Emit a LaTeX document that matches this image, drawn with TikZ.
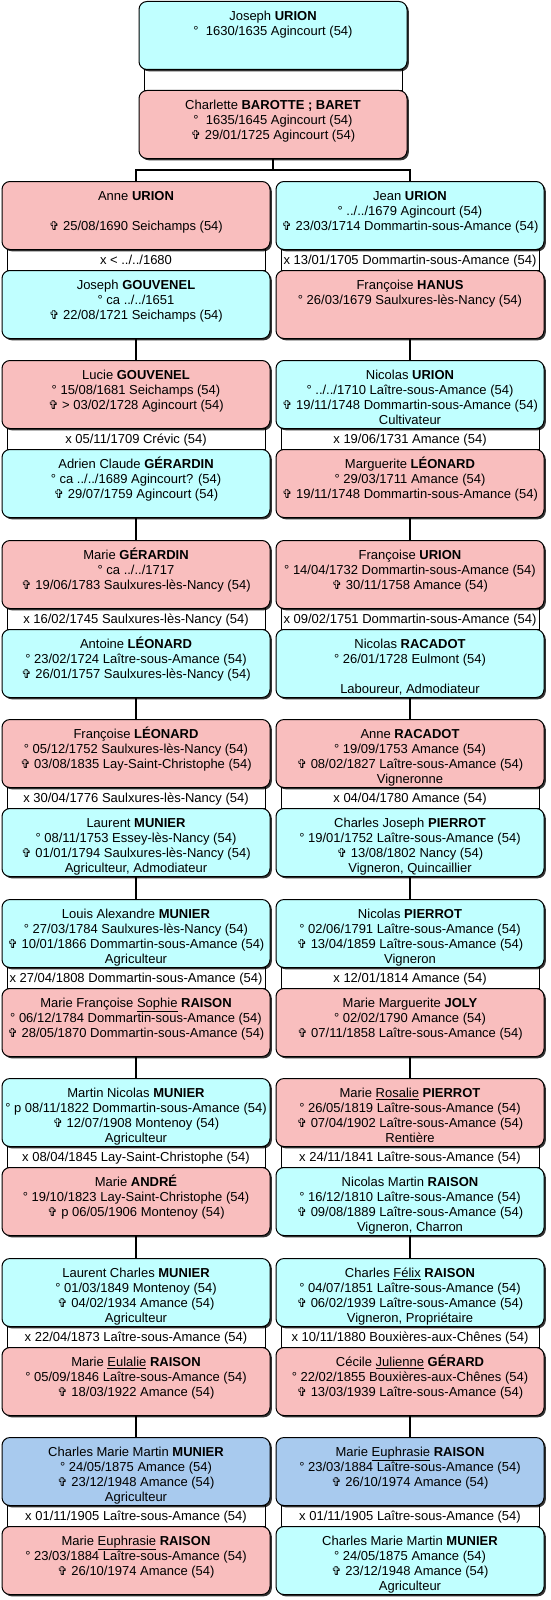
\documentclass[tikz,border=0pt]{standalone}
\usepackage{fontspec}
\setmainfont{Liberation Sans}
\newfontfamily\crossfont[Scale=0.95]{DejaVu Sans}
\usetikzlibrary{shadows}
\definecolor{malefill}{RGB}{192,255,255}
\definecolor{femalefill}{RGB}{249,190,190}
\definecolor{rootfill}{RGB}{168,202,238}
\newcommand{\linestrut}{\rule[-4pt]{0pt}{14pt}}
\newcommand{\pers}[4]{\rule{0pt}{19pt}#1\\\linestrut#2\\\linestrut#3\\\linestrut#4}
\newcommand{\dcd}{{\crossfont ✞}~}

\begin{document}
\begin{tikzpicture}[
    x=1pt, y=-1pt,
    font=\fontsize{13}{15}\selectfont,
    indiv/.style={draw=black, line width=1pt, rounded corners=8pt, anchor=north, align=center,
      inner xsep=0pt, inner ysep=0pt, minimum width=268pt, minimum height=68pt,
      drop shadow={shadow xshift=1.8pt, shadow yshift=-1.8pt, fill=black!80, opacity=1}},
    male/.style={indiv, fill=malefill},
    female/.style={indiv, fill=femalefill},
    root/.style={indiv, fill=rootfill},
    union/.style={draw=black, line width=1pt, anchor=north, inner sep=0pt,
      minimum width=258pt, minimum height=21pt, text height=9pt, text depth=1pt},
    link/.style={draw=black, line width=1.3pt}
]
  \fill[white] (0,0) rectangle (550,1600);
  \useasboundingbox (0,0) rectangle (550,1600);

  % top couple
  \node[male] (jurion) at (273,1) {\pers{Joseph \textbf{URION}}{° \ 1630/1635 Agincourt (54)}{}{}};
  \node[union] (u0) at (273,69) {};
  \node[female] (cbarotte) at (273,90) {\pers{Charlette \textbf{BAROTTE ; BARET}}{° \ 1635/1645 Agincourt (54)}{\dcd 29/01/1725 Agincourt (54)}{}};
  \coordinate (fork) at (273,170);
  \draw[link] (cbarotte.south) -- (fork);

  % row A
  \node[female] (aurion) at (136,181) {\pers{Anne \textbf{URION}}{}{\dcd 25/08/1690 Seichamps (54)}{}};
  \node[union] (ua1) at (136,249) {x < ../../1680};
  \node[male] (jgouvenel) at (136,270) {\pers{Joseph \textbf{GOUVENEL}}{° ca ../../1651}{\dcd 22/08/1721 Seichamps (54)}{}};
  \node[male] (jeurion) at (410,181) {\pers{Jean \textbf{URION}}{° ../../1679 Agincourt (54)}{\dcd 23/03/1714 Dommartin-sous-Amance (54)}{}};
  \node[union] (ua2) at (410,249) {x 13/01/1705 Dommartin-sous-Amance (54)};
  \node[female] (fhanus) at (410,270) {\pers{Françoise \textbf{HANUS}}{° 26/03/1679 Saulxures-lès-Nancy (54)}{}{}};
  \draw[link] (aurion.north) |- (fork) -| (jeurion.north);

  % row B
  \node[female] (lgouvenel) at (136,360) {\pers{Lucie \textbf{GOUVENEL}}{° 15/08/1681 Seichamps (54)}{\dcd > 03/02/1728 Agincourt (54)}{}};
  \node[union] (ub1) at (136,428) {x 05/11/1709 Crévic (54)};
  \node[male] (acgerardin) at (136,449) {\pers{Adrien Claude \textbf{GÉRARDIN}}{° ca ../../1689 Agincourt? (54)}{\dcd 29/07/1759 Agincourt (54)}{}};
  \node[male] (nurion) at (410,360) {\pers{Nicolas \textbf{URION}}{° ../../1710 Laître-sous-Amance (54)}{\dcd 19/11/1748 Dommartin-sous-Amance (54)}{Cultivateur}};
  \node[union] (ub2) at (410,428) {x 19/06/1731 Amance (54)};
  \node[female] (mleonard) at (410,449) {\pers{Marguerite \textbf{LÉONARD}}{° 29/03/1711 Amance (54)}{\dcd 19/11/1748 Dommartin-sous-Amance (54)}{}};
  \draw[link] (jgouvenel.south) -- (lgouvenel.north);
  \draw[link] (fhanus.south) -- (nurion.north);

  % row C
  \node[female] (mgerardin) at (136,540) {\pers{Marie \textbf{GÉRARDIN}}{° ca ../../1717}{\dcd 19/06/1783 Saulxures-lès-Nancy (54)}{}};
  \node[union] (uc1) at (136,608) {x 16/02/1745 Saulxures-lès-Nancy (54)};
  \node[male] (aleonard) at (136,629) {\pers{Antoine \textbf{LÉONARD}}{° 23/02/1724 Laître-sous-Amance (54)}{\dcd 26/01/1757 Saulxures-lès-Nancy (54)}{}};
  \node[female] (furion) at (410,540) {\pers{Françoise \textbf{URION}}{° 14/04/1732 Dommartin-sous-Amance (54)}{\dcd 30/11/1758 Amance (54)}{}};
  \node[union] (uc2) at (410,608) {x 09/02/1751 Dommartin-sous-Amance (54)};
  \node[male] (nracadot) at (410,629) {\pers{Nicolas \textbf{RACADOT}}{° 26/01/1728 Eulmont (54)}{}{Laboureur, Admodiateur}};
  \draw[link] (acgerardin.south) -- (mgerardin.north);
  \draw[link] (mleonard.south) -- (furion.north);

  % row D
  \node[female] (fleonard) at (136,719) {\pers{Françoise \textbf{LÉONARD}}{° 05/12/1752 Saulxures-lès-Nancy (54)}{\dcd 03/08/1835 Lay-Saint-Christophe (54)}{}};
  \node[union] (ud1) at (136,787) {x 30/04/1776 Saulxures-lès-Nancy (54)};
  \node[male] (lmunier) at (136,808) {\pers{Laurent \textbf{MUNIER}}{° 08/11/1753 Essey-lès-Nancy (54)}{\dcd 01/01/1794 Saulxures-lès-Nancy (54)}{Agriculteur, Admodiateur}};
  \node[female] (aracadot) at (410,719) {\pers{Anne \textbf{RACADOT}}{° 19/09/1753 Amance (54)}{\dcd 08/02/1827 Laître-sous-Amance (54)}{Vigneronne}};
  \node[union] (ud2) at (410,787) {x 04/04/1780 Amance (54)};
  \node[male] (cjpierrot) at (410,808) {\pers{Charles Joseph \textbf{PIERROT}}{° 19/01/1752 Laître-sous-Amance (54)}{\dcd 13/08/1802 Nancy (54)}{Vigneron, Quincaillier}};
  \draw[link] (aleonard.south) -- (fleonard.north);
  \draw[link] (nracadot.south) -- (aracadot.north);

  % row E
  \node[male] (lamunier) at (136,899) {\pers{Louis Alexandre \textbf{MUNIER}}{° 27/03/1784 Saulxures-lès-Nancy (54)}{\dcd 10/01/1866 Dommartin-sous-Amance (54)}{Agriculteur}};
  \node[union] (ue1) at (136,967) {x 27/04/1808 Dommartin-sous-Amance (54)};
  \node[female] (mfsraison) at (136,988) {\pers{Marie Françoise \underline{Sophie} \textbf{RAISON}}{° 06/12/1784 Dommartin-sous-Amance (54)}{\dcd 28/05/1870 Dommartin-sous-Amance (54)}{}};
  \node[male] (npierrot) at (410,899) {\pers{Nicolas \textbf{PIERROT}}{° 02/06/1791 Laître-sous-Amance (54)}{\dcd 13/04/1859 Laître-sous-Amance (54)}{Vigneron}};
  \node[union] (ue2) at (410,967) {x 12/01/1814 Amance (54)};
  \node[female] (mmjoly) at (410,988) {\pers{Marie Marguerite \textbf{JOLY}}{° 02/02/1790 Amance (54)}{\dcd 07/11/1858 Laître-sous-Amance (54)}{}};
  \draw[link] (lmunier.south) -- (lamunier.north);
  \draw[link] (cjpierrot.south) -- (npierrot.north);

  % row F
  \node[male] (mnmunier) at (136,1078) {\pers{Martin Nicolas \textbf{MUNIER}}{° p 08/11/1822 Dommartin-sous-Amance (54)}{\dcd 12/07/1908 Montenoy (54)}{Agriculteur}};
  \node[union] (uf1) at (136,1146) {x 08/04/1845 Lay-Saint-Christophe (54)};
  \node[female] (mandre) at (136,1167) {\pers{Marie \textbf{ANDRÉ}}{° 19/10/1823 Lay-Saint-Christophe (54)}{\dcd p 06/05/1906 Montenoy (54)}{}};
  \node[female] (mrpierrot) at (410,1078) {\pers{Marie \underline{Rosalie} \textbf{PIERROT}}{° 26/05/1819 Laître-sous-Amance (54)}{\dcd 07/04/1902 Laître-sous-Amance (54)}{Rentière}};
  \node[union] (uf2) at (410,1146) {x 24/11/1841 Laître-sous-Amance (54)};
  \node[male] (nmraison) at (410,1167) {\pers{Nicolas Martin \textbf{RAISON}}{° 16/12/1810 Laître-sous-Amance (54)}{\dcd 09/08/1889 Laître-sous-Amance (54)}{Vigneron, Charron}};
  \draw[link] (mfsraison.south) -- (mnmunier.north);
  \draw[link] (mmjoly.south) -- (mrpierrot.north);

  % row G
  \node[male] (lcmunier) at (136,1258) {\pers{Laurent Charles \textbf{MUNIER}}{° 01/03/1849 Montenoy (54)}{\dcd 04/02/1934 Amance (54)}{Agriculteur}};
  \node[union] (ug1) at (136,1326) {x 22/04/1873 Laître-sous-Amance (54)};
  \node[female] (meraison) at (136,1347) {\pers{Marie \underline{Eulalie} \textbf{RAISON}}{° 05/09/1846 Laître-sous-Amance (54)}{\dcd 18/03/1922 Amance (54)}{}};
  \node[male] (cfraison) at (410,1258) {\pers{Charles \underline{Félix} \textbf{RAISON}}{° 04/07/1851 Laître-sous-Amance (54)}{\dcd 06/02/1939 Laître-sous-Amance (54)}{Vigneron, Propriétaire}};
  \node[union] (ug2) at (410,1326) {x 10/11/1880 Bouxières-aux-Chênes (54)};
  \node[female] (cjgerard) at (410,1347) {\pers{Cécile \underline{Julienne} \textbf{GÉRARD}}{° 22/02/1855 Bouxières-aux-Chênes (54)}{\dcd 13/03/1939 Laître-sous-Amance (54)}{}};
  \draw[link] (mandre.south) -- (lcmunier.north);
  \draw[link] (nmraison.south) -- (cfraison.north);

  % row H
  \node[root] (cmmunier) at (136,1437) {\pers{Charles Marie Martin \textbf{MUNIER}}{° 24/05/1875 Amance (54)}{\dcd 23/12/1948 Amance (54)}{Agriculteur}};
  \node[union] (uh1) at (136,1505) {x 01/11/1905 Laître-sous-Amance (54)};
  \node[female] (eraisonsp) at (136,1526) {\pers{Marie \underline{Euphrasie} \textbf{RAISON}}{° 23/03/1884 Laître-sous-Amance (54)}{\dcd 26/10/1974 Amance (54)}{}};
  \node[root] (eraison) at (410,1437) {\pers{Marie \underline{Euphrasie} \textbf{RAISON}}{° 23/03/1884 Laître-sous-Amance (54)}{\dcd 26/10/1974 Amance (54)}{}};
  \node[union] (uh2) at (410,1505) {x 01/11/1905 Laître-sous-Amance (54)};
  \node[male] (cmmuniersp) at (410,1526) {\pers{Charles Marie Martin \textbf{MUNIER}}{° 24/05/1875 Amance (54)}{\dcd 23/12/1948 Amance (54)}{Agriculteur}};
  \draw[link] (meraison.south) -- (cmmunier.north);
  \draw[link] (cjgerard.south) -- (eraison.north);
\end{tikzpicture}
\end{document}
